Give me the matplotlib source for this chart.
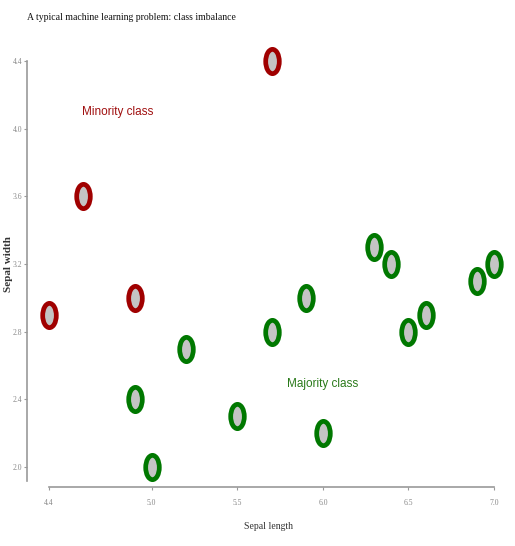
import matplotlib
matplotlib.use("Agg")
import matplotlib.pyplot as plt
from matplotlib.path import Path
from matplotlib.transforms import Affine2D

# Data
minority_x = [5.7, 4.6, 4.9, 4.4]
minority_y = [4.4, 3.6, 3.0, 2.9]
majority_x = [5.2, 4.9, 5.0, 5.5, 5.7, 5.9, 6.0, 6.3, 6.4, 6.5, 6.6, 6.9, 7.0]
majority_y = [2.7, 2.4, 2.0, 2.3, 2.8, 3.0, 2.2, 3.3, 3.2, 2.8, 2.9, 3.1, 3.2]
x_ticks = [4.4, 5.0, 5.5, 6.0, 6.5, 7.0]
y_ticks = [2.0, 2.4, 2.8, 3.2, 3.6, 4.0, 4.4]

W, H = 515, 546
fig = plt.figure(figsize=(W / 100, H / 100), dpi=100)
ax = fig.add_axes([27 / W, (H - 487) / H, (510 - 27) / W, (487 - 45) / H])
ax.set_xlim(4.2715, 7.093)
ax.set_ylim(1.882, 4.4946)

ell = Path.unit_circle().transformed(Affine2D().scale(0.56, 1.0))

ax.plot(minority_x, minority_y, linestyle="none", marker=ell, markersize=17.5,
        markerfacecolor="#c4c4c4", markeredgecolor="#a00000", markeredgewidth=3.4)
ax.plot(majority_x, majority_y, linestyle="none", marker=ell, markersize=17.5,
        markerfacecolor="#c4c4c4", markeredgecolor="#007800", markeredgewidth=3.4)

sans = ["Liberation Sans", "DejaVu Sans"]
ax.text(4.8, 4.1, "Minority class", color="#a01010", fontsize=8.5,
        family=sans, ha="center", va="center")
ax.text(6.0, 2.49, "Majority class", color="#2a7a1a", fontsize=8.5,
        family=sans, ha="center", va="center")

for s in ["top", "right"]:
    ax.spines[s].set_visible(False)
ax.spines["left"].set_bounds(1.92, 4.4)
ax.spines["bottom"].set_bounds(4.4, 7.0)
for s in ["left", "bottom"]:
    ax.spines[s].set_color("#999999")
    ax.spines[s].set_linewidth(1.2)

ax.set_xticks(x_ticks)
ax.set_xticklabels([f"{v:.1f}" for v in x_ticks])
ax.set_yticks(y_ticks)
ax.set_yticklabels([f"{v:.1f}" for v in y_ticks])
ax.tick_params(axis="both", colors="#999999", labelcolor="#888888", labelsize=5.5,
               length=2.5, width=0.8)
ax.tick_params(axis="x", pad=6)
ax.tick_params(axis="y", pad=1)
for lab in ax.get_xticklabels() + ax.get_yticklabels():
    lab.set_family("Liberation Serif")

ax.set_xlabel("Sepal length", family="Liberation Serif", fontsize=7,
              color="#333333", labelpad=11)
fig.text(9 / W, 1 - 264 / H, "Sepal width", family="Liberation Serif",
         fontsize=8, fontweight="bold", color="#333333", rotation=90,
         ha="center", va="center")

fig.text(27 / W, 1 - 17 / H, "A typical machine learning problem: class imbalance",
         family="Liberation Serif", fontsize=7, color="#111111",
         ha="left", va="center")

fig.savefig("out.png", dpi=100, facecolor="white")
